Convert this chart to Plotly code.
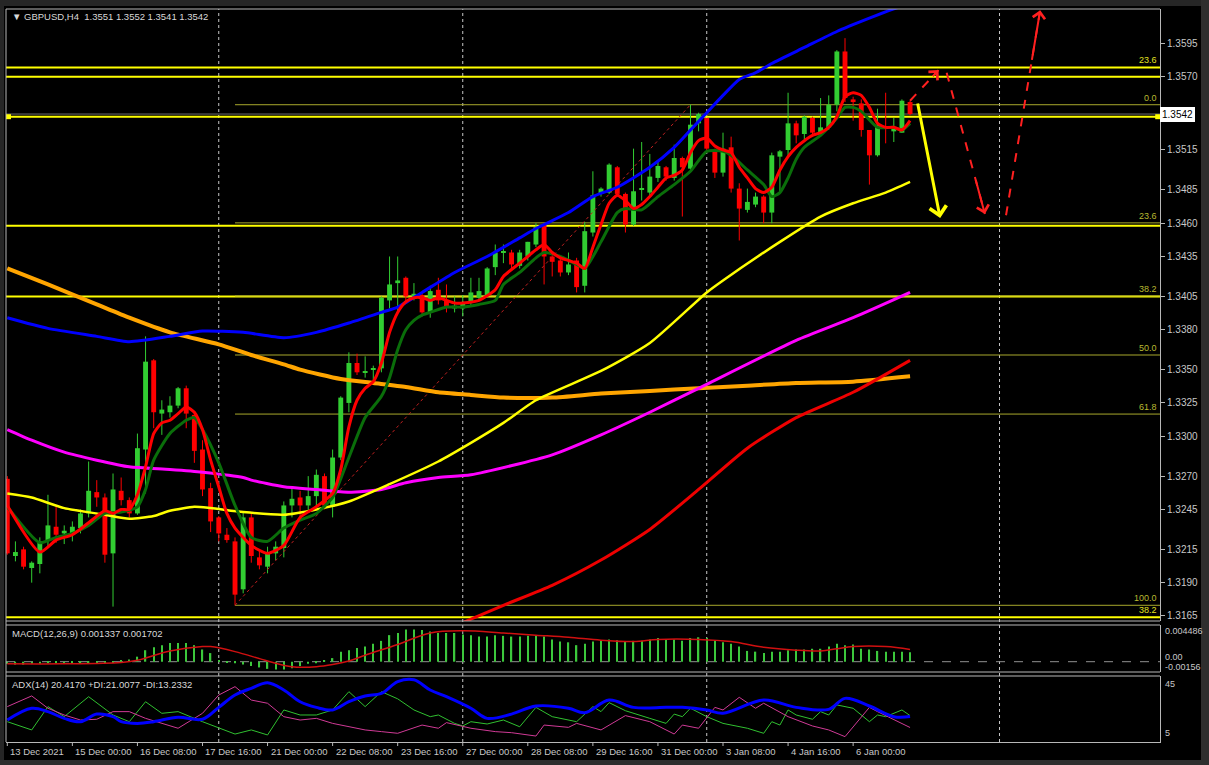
import plotly.graph_objects as go

# ---------------- data ----------------
tick_idx = [0, 8, 16, 24, 32, 40, 48, 56, 64, 72, 80, 88, 96, 104]
tick_labels = ["13 Dec 2021", "15 Dec 00:00", "16 Dec 08:00", "17 Dec 16:00", "21 Dec 00:00",
               "22 Dec 08:00", "23 Dec 16:00", "27 Dec 00:00", "28 Dec 08:00", "29 Dec 16:00",
               "31 Dec 00:00", "3 Jan 08:00", "4 Jan 16:00", "6 Jan 00:00"]
grid_idx = [26, 56, 86, 122]

opens = [1.3268,1.3210,1.3215,1.3201,1.3204,1.3222,1.3232,1.3227,1.3227,1.3231,
 1.3242,1.3258,1.3254,1.3212,1.3259,1.3252,1.3242,1.3290,1.3357,1.3317,
 1.3318,1.3323,1.3336,1.3316,1.3290,1.3261,1.3239,1.3226,1.3221,1.3185,
 1.3239,1.3209,1.3202,1.3212,1.3216,1.3248,1.3254,1.3248,1.3255,1.3270,
 1.3247,1.3284,1.3325,1.3355,1.3348,1.3350,1.3351,1.3402,1.3415,1.3419,
 1.3405,1.3406,1.3393,1.3410,1.3402,1.3396,1.3396,1.3400,1.3404,1.3406,
 1.3427,1.3438,1.3438,1.3428,1.3435,1.3444,1.3459,1.3435,1.3432,1.3423,
 1.3432,1.3413,1.3453,1.3482,1.3483,1.3502,1.3482,1.3459,1.3485,1.3483,
 1.3494,1.3502,1.3494,1.3509,1.3501,1.3535,1.3539,1.3515,1.3498,1.3517,
 1.3486,1.3470,1.3474,1.3480,1.3468,1.3510,1.3515,1.3535,1.3527,1.3539,
 1.3528,1.3532,1.3549,1.3589,1.3553,1.3550,1.3530,1.3511,1.3533,1.3529,
 1.3528,1.3551]
highs = [1.3270,1.3221,1.3217,1.3206,1.3224,1.3256,1.3248,1.3233,1.3236,1.3245,
 1.3281,1.3267,1.3257,1.3272,1.3269,1.3254,1.3302,1.3375,1.3358,1.3327,
 1.3330,1.3337,1.3338,1.3318,1.3297,1.3265,1.3240,1.3231,1.3224,1.3243,
 1.3242,1.3215,1.3217,1.3221,1.3251,1.3261,1.3259,1.3270,1.3275,1.3272,
 1.3290,1.3330,1.3363,1.3362,1.3360,1.3353,1.3405,1.3435,1.3435,1.3420,
 1.3415,1.3408,1.3413,1.3419,1.3414,1.3405,1.3406,1.3419,1.3419,1.3427,
 1.3444,1.3444,1.3440,1.3440,1.3446,1.3460,1.3460,1.3436,1.3434,1.3438,
 1.3434,1.3461,1.3499,1.3487,1.3505,1.3503,1.3483,1.3516,1.3521,1.3512,
 1.3506,1.3503,1.3519,1.3510,1.3549,1.3543,1.3539,1.3516,1.3528,1.3525,
 1.3490,1.3486,1.3483,1.3481,1.3513,1.3515,1.3558,1.3537,1.3541,1.3540,
 1.3554,1.3556,1.3590,1.3599,1.3555,1.3553,1.3530,1.3546,1.3558,1.3539,
 1.3553,1.3552]
lows = [1.3211,1.3206,1.3200,1.3190,1.3197,1.3217,1.3220,1.3219,1.3221,1.3227,
 1.3239,1.3247,1.3205,1.3172,1.3248,1.3239,1.3241,1.3257,1.3306,1.3301,
 1.3314,1.3321,1.3306,1.3280,1.3255,1.3228,1.3221,1.3220,1.3173,1.3182,
 1.3205,1.3200,1.3197,1.3207,1.3209,1.3239,1.3237,1.3243,1.3247,1.3245,
 1.3239,1.3282,1.3318,1.3346,1.3344,1.3342,1.3348,1.3396,1.3393,1.3401,
 1.3402,1.3390,1.3389,1.3399,1.3393,1.3393,1.3390,1.3398,1.3402,1.3404,
 1.3421,1.3430,1.3426,1.3426,1.3432,1.3442,1.3414,1.3420,1.3420,1.3421,
 1.3408,1.3408,1.3450,1.3480,1.3482,1.3480,1.3453,1.3458,1.3477,1.3481,
 1.3491,1.3492,1.3492,1.3465,1.3500,1.3529,1.3513,1.3494,1.3495,1.3483,
 1.3447,1.3468,1.3472,1.3460,1.3460,1.3483,1.3509,1.3520,1.3523,1.3525,
 1.3526,1.3530,1.3544,1.3551,1.3537,1.3525,1.3489,1.3510,1.3520,1.3521,
 1.3528,1.3541]
closes = [1.3212,1.3213,1.3202,1.3205,1.3221,1.3233,1.3226,1.3229,1.3232,1.3242,
 1.3259,1.3254,1.3211,1.3260,1.3252,1.3242,1.3291,1.3356,1.3318,1.3320,
 1.3323,1.3336,1.3317,1.3289,1.3260,1.3236,1.3227,1.3222,1.3181,1.3239,
 1.3210,1.3203,1.3212,1.3217,1.3248,1.3253,1.3248,1.3255,1.3271,1.3248,
 1.3284,1.3329,1.3355,1.3348,1.3349,1.3351,1.3404,1.3414,1.3417,1.3405,
 1.3407,1.3393,1.3409,1.3402,1.3397,1.3398,1.3400,1.3408,1.3409,1.3426,
 1.3438,1.3439,1.3429,1.3438,1.3446,1.3457,1.3435,1.3431,1.3423,1.3429,
 1.3412,1.3454,1.3481,1.3486,1.3504,1.3482,1.3459,1.3484,1.3486,1.3495,
 1.3503,1.3495,1.3509,1.3502,1.3534,1.3542,1.3516,1.3498,1.3516,1.3486,
 1.3471,1.3476,1.3480,1.3468,1.3511,1.3514,1.3535,1.3526,1.3540,1.3528,
 1.3532,1.3549,1.3589,1.3554,1.3551,1.3530,1.3511,1.3534,1.3532,1.3531,
 1.3552,1.3542]

# moving averages (at sample bars)
fast_idx = [0,4,6,8,10,12,13,14,15,16,17,18,19,20,21,22,23,24,25,26,27,28,30,32,34,36,38,40,41,42,43,44,45,46,47,48,49,50,51,52,53,54,55,56,58,60,61,63,64,65,66,67,68,69,70,71,72,73,74,75,76,77,78,79,80,81,82,83,84,85,86,87,88,89,90,91,92,93,94,95,96,97,98,99,100,101,102,103,104,105,106,107,108,109,110,111]
fast_val = [1.3248,1.3213,1.3222,1.3226,1.3235,1.3244,1.3242,1.3245,1.3245,1.3256,1.3277,1.3302,1.3310,1.3312,1.3317,1.3322,1.3318,1.3305,1.3282,1.3262,1.3242,1.3231,1.3218,1.3212,1.3218,1.3239,1.3247,1.3257,1.3275,1.3307,1.3327,1.3336,1.3341,1.3355,1.3378,1.3393,1.3401,1.3404,1.3404,1.3402,1.3404,1.3402,1.3400,1.3400,1.3402,1.3410,1.3420,1.3430,1.3435,1.3440,1.3444,1.3438,1.3434,1.3432,1.3430,1.3426,1.3442,1.3459,1.3475,1.3481,1.3477,1.3471,1.3474,1.3480,1.3487,1.3494,1.3496,1.3500,1.3513,1.3522,1.3524,1.3518,1.3515,1.3513,1.3502,1.3494,1.3486,1.3483,1.3487,1.3500,1.3510,1.3517,1.3522,1.3526,1.3528,1.3532,1.3540,1.3555,1.3558,1.3556,1.3547,1.3535,1.3532,1.3532,1.3530,1.3537]
slow_idx = [0,4,6,8,10,12,14,16,17,18,20,22,23,24,26,28,30,32,34,36,38,40,42,44,46,47,48,49,50,51,52,54,56,58,60,61,63,65,66,68,70,71,73,75,76,78,80,82,84,86,88,89,91,93,94,95,96,97,98,100,102,103,104,105,107,109,110,111]
slow_val = [1.3247,1.3220,1.3224,1.3227,1.3233,1.3242,1.3243,1.3247,1.3260,1.3282,1.3302,1.3312,1.3314,1.3305,1.3280,1.3248,1.3224,1.3221,1.3231,1.3237,1.3242,1.3254,1.3284,1.3314,1.3330,1.3344,1.3365,1.3380,1.3387,1.3391,1.3393,1.3397,1.3397,1.3399,1.3402,1.3414,1.3423,1.3434,1.3438,1.3435,1.3429,1.3426,1.3446,1.3468,1.3471,1.3470,1.3480,1.3489,1.3499,1.3514,1.3514,1.3511,1.3500,1.3489,1.3480,1.3483,1.3494,1.3508,1.3517,1.3526,1.3539,1.3547,1.3547,1.3544,1.3532,1.3532,1.3530,1.3535]
upper_idx = [0,5,11,15,20,24,29,34,38,42,46,48,51,55,59,63,65,69,72,75,79,82,84,86,88,90,92,94,98,102,106,109,111]
upper_val = [1.3389,1.3381,1.3375,1.3371,1.3375,1.3379,1.3378,1.3374,1.3378,1.3385,1.3393,1.3397,1.3408,1.3423,1.3435,1.3449,1.3456,1.3468,1.3480,1.3487,1.3502,1.3517,1.3530,1.3543,1.3556,1.3568,1.3573,1.3580,1.3592,1.3604,1.3614,1.3621,1.3625]
mid_idx = [0,3,7,12,15,18,20,23,25,29,34,38,42,47,53,57,61,65,73,79,86,88,95,100,104,108,111]
mid_val = [1.3257,1.3254,1.3246,1.3241,1.3238,1.3240,1.3244,1.3247,1.3246,1.3243,1.3241,1.3245,1.3251,1.3264,1.3281,1.3295,1.3310,1.3327,1.3349,1.3370,1.3408,1.3417,1.3446,1.3465,1.3475,1.3483,1.3491]
lower_idx = [56,61,67,73,79,85,91,97,104,111]
lower_val = [1.3160,1.3173,1.3188,1.3207,1.3230,1.3260,1.3291,1.3314,1.3333,1.3357]
ma100_idx = [0,3,7,11,15,20,24,29,30,34,38,42,46,49,53,57,67,73,79,85,97,104,111]
ma100_val = [1.3305,1.3297,1.3288,1.3282,1.3277,1.3275,1.3273,1.3269,1.3267,1.3262,1.3260,1.3258,1.3260,1.3265,1.3269,1.3271,1.3286,1.3301,1.3318,1.3336,1.3372,1.3389,1.3408]
ma200_idx = [0,5,11,15,20,26,30,34,36,41,45,49,53,57,61,67,73,79,85,91,97,104,111]
ma200_val = [1.3426,1.3414,1.3399,1.3389,1.3378,1.3369,1.3361,1.3354,1.3350,1.3343,1.3340,1.3337,1.3333,1.3331,1.3329,1.3329,1.3332,1.3334,1.3336,1.3338,1.3340,1.3341,1.3345]

# horizontal levels
h_levels = [1.3577, 1.3570, 1.3540, 1.3458, 1.3405, 1.3164]
bid_price = 1.3542
fib_low_idx, fib_low = 28, 1.3173
fib_high_idx, fib_high = 84, 1.3549
fib_ratios = [0.0, 23.6, 38.2, 50.0, 61.8, 100.0]

# MACD
macd_hist = [-0.0003,-0.0004,-0.0004,-0.0003,-0.0003,-0.0002,-0.0002,-0.0003,-0.0002,-0.0002,
 -0.0001,-0.0001,-0.0002,-0.0001,0.0001,0.0003,0.0007,0.0016,0.0020,0.0023,
 0.0026,0.0026,0.0026,0.0023,0.0017,0.0012,0.0002,-0.0001,-0.0002,-0.0004,
 -0.0006,-0.0008,-0.0010,-0.0011,-0.0011,-0.0009,-0.0006,-0.0003,-0.0002,0.0001,
 0.0005,0.0014,0.0016,0.0019,0.0021,0.0025,0.0029,0.0037,0.0040,0.0045,
 0.0045,0.0044,0.0042,0.0040,0.0040,0.0040,0.0038,0.0037,0.0035,0.0035,
 0.0037,0.0036,0.0035,0.0035,0.0036,0.0036,0.0035,0.0031,0.0028,0.0027,
 0.0023,0.0025,0.0028,0.0030,0.0031,0.0030,0.0028,0.0029,0.0029,0.0031,
 0.0033,0.0031,0.0031,0.0029,0.0033,0.0034,0.0033,0.0030,0.0027,0.0025,
 0.0021,0.0015,0.0014,0.0012,0.0014,0.0014,0.0016,0.0017,0.0017,0.0018,
 0.0018,0.0021,0.0025,0.0023,0.0024,0.0018,0.0017,0.0015,0.0014,0.0014,
 0.0014,0.0013]
signal_idx = [0,7,14,16,20,24,25,28,32,35,38,40,42,44,48,52,56,61,65,69,73,77,80,85,89,93,97,100,102,104,108,111]
signal_val = [-0.0003,-0.0003,-0.0001,0.0002,0.0015,0.0021,0.0021,0.0014,0.0001,-0.0007,-0.0007,-0.0004,0.0001,0.0009,0.0024,0.0040,0.0043,0.0040,0.0037,0.0034,0.0030,0.0028,0.0031,0.0031,0.0028,0.0020,0.0016,0.0015,0.0018,0.0021,0.0021,0.0017]

# ADX(14)
adx_idx = [0,3,5,7,9,11,13,14,16,18,21,24,26,28,30,32,34,36,38,40,42,44,46,48,50,52,54,57,59,62,65,69,71,74,77,81,83,86,88,93,97,101,103,106,109,111]
adx_val = [18.1,25.8,23.6,19.2,17.0,22.0,20.3,17.0,15.9,17.0,19.9,18.6,26.4,34.5,38.9,42.6,37.8,30.1,26.4,24.7,30.1,33.9,35.6,43.3,44.5,37.8,33.4,25.8,19.2,22.0,27.3,25.8,22.9,31.2,26.4,26.4,26.4,24.7,22.5,31.2,26.4,25.1,32.3,27.3,20.3,20.4]
pdi_idx = [0,3,5,7,10,13,15,17,19,21,24,26,28,30,32,34,36,38,40,42,44,46,48,50,52,53,55,56,57,59,61,63,65,67,70,72,73,74,76,79,81,82,83,84,86,88,91,93,94,95,96,97,99,100,101,102,104,106,107,108,110,111]
pdi_val = [17.0,11.6,26.9,20.3,33.4,21.4,17.0,30.1,22.5,23.6,17.0,12.7,8.9,11.6,8.3,24.7,21.4,21.4,24.7,36.7,26.9,36.7,32.0,24.7,20.3,21.4,15.9,14.2,17.0,15.5,18.1,13.7,26.4,20.3,17.0,26.9,23.6,29.5,24.2,19.2,15.9,22.0,20.3,25.8,20.3,15.9,12.7,9.4,17.0,14.8,24.7,21.4,18.6,23.6,21.4,28.0,25.8,17.0,21.4,20.3,24.7,21.0]
mdi_idx = [0,3,5,7,9,11,13,15,17,19,21,24,26,28,30,32,34,36,38,40,42,44,46,48,51,53,54,56,57,60,62,65,66,69,70,73,76,79,82,83,85,87,88,90,92,93,96,99,101,103,106,107,111]
mdi_val = [26.9,33.9,25.8,21.4,18.1,18.6,23.6,23.6,19.2,15.9,12.7,22.5,34.5,40.0,31.2,29.1,20.3,18.1,19.2,15.9,13.7,11.6,10.5,9.4,14.8,12.7,16.4,14.2,12.7,10.5,9.8,7.6,14.8,13.3,15.9,11.6,21.0,17.0,8.9,14.8,12.7,26.4,24.7,33.0,25.8,29.1,20.3,14.2,11.6,7.2,26.4,23.6,13.2]

# forecast arrows (bar index, price)
yellow_arrow = [(111.9, 1.3551), (114.7, 1.3464)]
red_arrows = [[(111.0, 1.3552), (114.5, 1.3575)],
              [(115.5, 1.3573), (120.2, 1.3467)],
              [(122.8, 1.3466), (127.0, 1.3620)]]

# ---------------- figure ----------------
W, H = 1209, 765
ML, MR, MT, MB = 6, 49, 9, 23
PH = H - MT - MB


def py(px):
    return (H - MB - px) / PH


def pxx(px):
    return (px - ML) / (W - ML - MR)


main_dom = [py(621), 1.0]
macd_dom = [py(672), py(625)]
adx_dom = [0.0, py(676)]

UP, DN = "#32cd32", "#ff0000"
TXT = "#c8c8c8"
FONT = "Liberation Sans"

fig = go.Figure()
n = len(opens)
idx = list(range(n))
is_up = [c >= o for o, c in zip(opens, closes)]

for flag, col in ((True, UP), (False, DN)):
    xs, ys = [], []
    for i in idx:
        if is_up[i] == flag:
            xs += [i, i, None]
            ys += [lows[i], highs[i], None]
    fig.add_trace(go.Scatter(x=xs, y=ys, mode="lines", line=dict(color=col, width=1),
                             hoverinfo="skip", showlegend=False, xaxis="x", yaxis="y"))
fig.add_trace(go.Bar(x=idx, y=[max(abs(c - o), 0.00004) for o, c in zip(opens, closes)],
                     base=[min(o, c) for o, c in zip(opens, closes)], width=0.6,
                     marker=dict(color=[UP if u else DN for u in is_up], line=dict(width=0)),
                     showlegend=False, hoverinfo="skip", xaxis="x", yaxis="y"))

fig.add_trace(go.Scatter(x=[fib_low_idx, fib_high_idx], y=[fib_low, fib_high], mode="lines",
                         line=dict(color="#c02020", width=1, dash="dot"), showlegend=False,
                         hoverinfo="skip", xaxis="x", yaxis="y"))


def line(xv, yv, col, w):
    fig.add_trace(go.Scatter(x=xv, y=yv, mode="lines",
                             line=dict(color=col, width=w, shape="spline", smoothing=0.6),
                             showlegend=False, hoverinfo="skip", xaxis="x", yaxis="y"))


line(ma200_idx, ma200_val, "#ffa500", 4)
line(ma100_idx, ma100_val, "#ff00ff", 3)
line(mid_idx, mid_val, "#ffff00", 2.5)
line(upper_idx, upper_val, "#0000ff", 3)
line(lower_idx, lower_val, "#ee0000", 3)
line(slow_idx, slow_val, "#0a6e0a", 3)
line(fast_idx, fast_val, "#ff0000", 3)

for seg in red_arrows:
    fig.add_trace(go.Scatter(x=[seg[0][0], seg[1][0]], y=[seg[0][1], seg[1][1]], mode="lines",
                             line=dict(color="#ff2020", width=2, dash="dash"), showlegend=False,
                             hoverinfo="skip", xaxis="x", yaxis="y", cliponaxis=False))

fig.add_trace(go.Scatter(x=[0.15, 141.45], y=[h_levels[2], h_levels[2]], mode="markers",
                         marker=dict(symbol="square", size=5, color="#ffff00"), showlegend=False,
                         hoverinfo="skip", xaxis="x", yaxis="y", cliponaxis=False))

fig.add_trace(go.Bar(x=idx, y=macd_hist, width=0.16, marker=dict(color="#3cc83c", line=dict(width=0)),
                     showlegend=False, hoverinfo="skip", xaxis="x", yaxis="y2"))
fig.add_trace(go.Scatter(x=signal_idx, y=signal_val, mode="lines",
                         line=dict(color="#d01010", width=1.5, shape="spline"),
                         showlegend=False, hoverinfo="skip", xaxis="x", yaxis="y2"))

fig.add_trace(go.Scatter(x=pdi_idx, y=pdi_val, mode="lines", line=dict(color="#30c030", width=1),
                         showlegend=False, hoverinfo="skip", xaxis="x", yaxis="y3"))
fig.add_trace(go.Scatter(x=mdi_idx, y=mdi_val, mode="lines", line=dict(color="#d03a96", width=1),
                         showlegend=False, hoverinfo="skip", xaxis="x", yaxis="y3"))
fig.add_trace(go.Scatter(x=adx_idx, y=adx_val, mode="lines",
                         line=dict(color="#0000ff", width=3, shape="spline"),
                         showlegend=False, hoverinfo="skip", xaxis="x", yaxis="y3"))

shapes = []
shapes.append(dict(type="rect", xref="paper", yref="paper", x0=pxx(-5), x1=pxx(4), y0=py(800), y1=py(-20),
                   fillcolor="#262626", line=dict(width=0), layer="above"))
shapes.append(dict(type="rect", xref="paper", yref="paper", x0=pxx(-5), x1=pxx(1220), y0=py(6), y1=py(-20),
                   fillcolor="#262626", line=dict(width=0), layer="above"))
shapes.append(dict(type="rect", xref="paper", yref="paper", x0=pxx(1201), x1=pxx(1220), y0=py(800), y1=py(-20),
                   fillcolor="#2e2e2e", line=dict(width=0), layer="above"))
shapes.append(dict(type="rect", xref="paper", yref="paper", x0=pxx(-5), x1=pxx(1220), y0=py(800), y1=py(760),
                   fillcolor="#2e2e2e", line=dict(width=0), layer="above"))
BC = "#b8b8b8"
shapes.append(dict(type="line", xref="paper", yref="paper", x0=0, x1=0, y0=0, y1=1, line=dict(color=BC, width=1)))
shapes.append(dict(type="line", xref="paper", yref="paper", x0=0, x1=1, y0=1, y1=1, line=dict(color=BC, width=1)))
for yy in (main_dom[0], macd_dom[1], macd_dom[0], adx_dom[1]):
    shapes.append(dict(type="line", xref="paper", yref="paper", x0=0, x1=1, y0=yy, y1=yy,
                       line=dict(color=BC, width=1)))
for g in grid_idx:
    shapes.append(dict(type="line", xref="x", yref="paper", x0=g, x1=g, y0=0, y1=1,
                       line=dict(color="#c8c8c8", width=1, dash="dot"), layer="below"))
shapes.append(dict(type="line", xref="paper", yref="y", x0=0, x1=1, y0=bid_price, y1=bid_price,
                   line=dict(color="#707070", width=1), layer="below"))
for lv in h_levels:
    shapes.append(dict(type="line", xref="paper", yref="y", x0=0, x1=1, y0=lv, y1=lv,
                       line=dict(color="#ffff00", width=2), layer="below"))
for r in fib_ratios:
    lv = fib_high - (fib_high - fib_low) * r / 100.0
    shapes.append(dict(type="line", xref="x", yref="y", x0=fib_low_idx, x1=150, y0=lv, y1=lv,
                       line=dict(color="#a8a82c", width=1), layer="below"))
shapes.append(dict(type="line", xref="paper", yref="y2", x0=0, x1=1, y0=0, y1=0,
                   line=dict(color="#909090", width=1, dash="dash"), layer="below"))
for t in tick_idx:
    shapes.append(dict(type="line", xref="x", yref="paper", x0=t, x1=t, y0=py(742), y1=py(746),
                       line=dict(color=BC, width=1)))

ann = []
ann.append(dict(xref="paper", yref="paper", x=pxx(10), y=py(9), xanchor="left", yanchor="top",
                text="\u25BC GBPUSD,H4  1.3551 1.3552 1.3541 1.3542", showarrow=False,
                font=dict(family=FONT, size=9.5, color="#d8d8d8")))
ann.append(dict(xref="paper", yref="paper", x=pxx(10), y=py(626), xanchor="left", yanchor="top",
                text="MACD(12,26,9) 0.001337 0.001702", showarrow=False,
                font=dict(family=FONT, size=9.5, color="#d8d8d8")))
ann.append(dict(xref="paper", yref="paper", x=pxx(10), y=py(677), xanchor="left", yanchor="top",
                text="ADX(14) 20.4170 +DI:21.0077 -DI:13.2332", showarrow=False,
                font=dict(family=FONT, size=9.5, color="#d8d8d8")))
for r in fib_ratios:
    lv = fib_high - (fib_high - fib_low) * r / 100.0
    ann.append(dict(xref="paper", yref="y", x=0.999, y=lv, xanchor="right", yanchor="bottom",
                    text="%.1f" % r, showarrow=False, font=dict(family=FONT, size=9, color="#b8b830")))
ann.append(dict(xref="paper", yref="y", x=0.999, y=h_levels[0], xanchor="right", yanchor="bottom",
                text="23.6", showarrow=False, font=dict(family=FONT, size=9, color="#e0e020")))
ann.append(dict(xref="paper", yref="y", x=0.999, y=h_levels[-1], xanchor="right", yanchor="bottom",
                text="38.2", showarrow=False, font=dict(family=FONT, size=9, color="#e0e020")))
ann.append(dict(xref="paper", yref="y", x=1.0, y=bid_price, xanchor="left", yanchor="middle",
                text="1.3542", showarrow=False, bgcolor="#ffffff", bordercolor="#ffffff", borderpad=1,
                font=dict(family=FONT, size=10, color="#000000")))
for txt, ypx in (("0.004486", 631), ("0.00", 657), ("-0.00156", 667), ("45", 684), ("5", 733)):
    ann.append(dict(xref="paper", yref="paper", x=pxx(1163), y=py(ypx), xanchor="left", yanchor="middle",
                    text=txt, showarrow=False, font=dict(family=FONT, size=9, color=TXT)))
for t, lab in zip(tick_idx, tick_labels):
    ann.append(dict(xref="x", yref="paper", x=t, y=py(744), xanchor="left", yanchor="top", xshift=1,
                    text=lab, showarrow=False, font=dict(family=FONT, size=9.5, color=TXT)))
ann.append(dict(xref="x", yref="y", axref="x", ayref="y", x=yellow_arrow[1][0], y=yellow_arrow[1][1],
                ax=yellow_arrow[0][0], ay=yellow_arrow[0][1], showarrow=True, arrowhead=4,
                arrowsize=1.1, arrowwidth=3, arrowcolor="#ffff00", text=""))
for seg in red_arrows:
    (x0, y0), (x1, y1) = seg
    ann.append(dict(xref="x", yref="y", axref="x", ayref="y", x=x1, y=y1,
                    ax=x1 - (x1 - x0) * 0.25, ay=y1 - (y1 - y0) * 0.25, showarrow=True, arrowhead=4,
                    arrowsize=1.2, arrowwidth=2, arrowcolor="#ff2020", text=""))

x_left = (ML - 7.3) / 8.133
x_right = (W - MR - 7.3) / 8.133

fig.update_layout(
    width=W, height=H, autosize=False, margin=dict(l=ML, r=MR, t=MT, b=MB, pad=0),
    paper_bgcolor="#000000", plot_bgcolor="#000000", barmode="overlay", showlegend=False,
    font=dict(family=FONT, size=10, color=TXT),
    xaxis=dict(domain=[0, 1], range=[x_left, x_right], anchor="y3", showgrid=False, zeroline=False,
               showticklabels=False, ticks="", showline=True, linecolor=BC),
    yaxis=dict(domain=main_dom, range=[1.31612, 1.36209], side="right", anchor="x", showgrid=False,
               zeroline=False, tickvals=[1.3595, 1.3570, 1.3515, 1.3485, 1.3460, 1.3435, 1.3405, 1.3380,
                                         1.3350, 1.3325, 1.3300, 1.3270, 1.3245, 1.3215, 1.3190, 1.3165],
               ticktext=["1.3595", "1.3570", "1.3515", "1.3485", "1.3460", "1.3435", "1.3405", "1.3380",
                         "1.3350", "1.3325", "1.3300", "1.3270", "1.3245", "1.3215", "1.3190", "1.3165"],
               ticks="outside", ticklen=4, tickcolor=BC, showline=True, linecolor=BC,
               tickfont=dict(family=FONT, size=10, color=TXT)),
    yaxis2=dict(domain=macd_dom, range=[-0.001435, 0.005111], side="right", anchor="x", showgrid=False,
                zeroline=False, showticklabels=False, showline=True, linecolor=BC),
    yaxis3=dict(domain=adx_dom, range=[3.69, 46.97], side="right", anchor="x", showgrid=False,
                zeroline=False, showticklabels=False, showline=True, linecolor=BC),
    shapes=shapes, annotations=ann,
)

post = ("document.documentElement.style.margin='0';document.body.style.margin='0';"
        "document.body.style.padding='0';document.documentElement.style.overflow='hidden';"
        "document.body.style.overflow='hidden';")
fig.write_html("out.html", config={"displayModeBar": False, "responsive": False}, post_script=post)
